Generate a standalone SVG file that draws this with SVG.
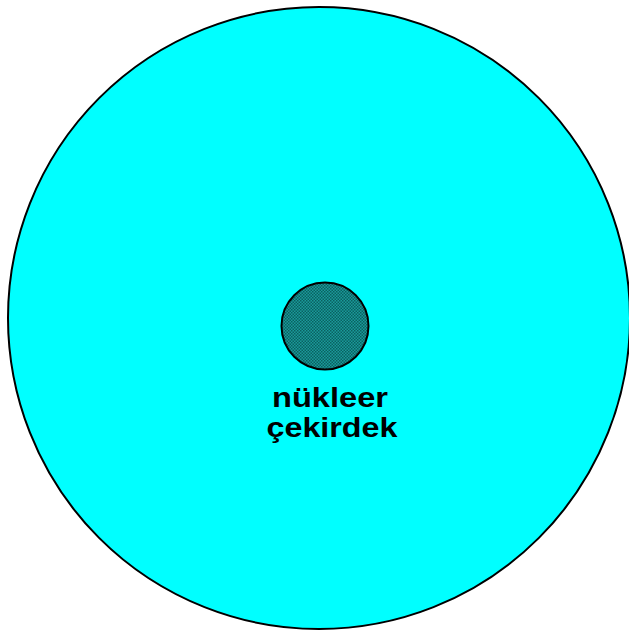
<svg xmlns="http://www.w3.org/2000/svg" width="629" height="635" viewBox="0 0 629 635">
<defs>
<pattern id="dots" width="3" height="3" patternUnits="userSpaceOnUse">
<rect width="3" height="3" fill="#1a9a9a"/>
<rect x="0" y="0" width="1.5" height="1.5" fill="#0a6060"/>
<rect x="1.5" y="1.5" width="1.5" height="1.5" fill="#0a6060"/>
</pattern>
<style>
.lbl{font-family:"Liberation Sans",Arial,sans-serif;font-weight:bold;font-size:27px;fill:#000;text-anchor:middle}
</style>
</defs>
<g id="cell">
<circle cx="319" cy="318" r="311" fill="#00ffff" stroke="#000" stroke-width="2"/>
</g>
<g id="nucleus">
<circle cx="325" cy="326" r="43.5" fill="url(#dots)" stroke="#000" stroke-width="2"/>
<text class="lbl" x="330" y="407" textLength="116" lengthAdjust="spacingAndGlyphs">nükleer</text>
<text class="lbl" x="332" y="437" textLength="131" lengthAdjust="spacingAndGlyphs">çekirdek</text>
</g>
<g id="connectors"/>
</svg>
